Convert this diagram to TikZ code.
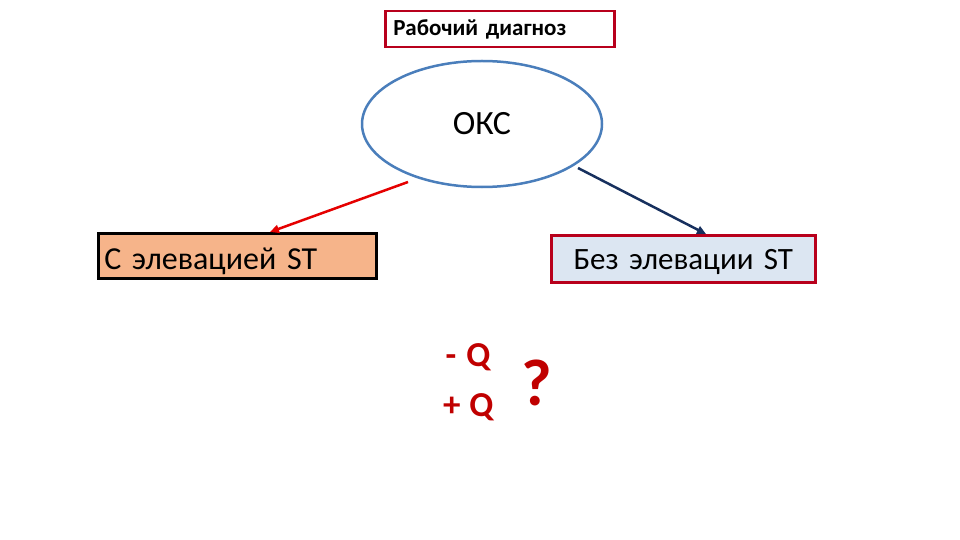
\documentclass[tikz,border=0pt]{standalone}
\usepackage{fontspec}
\setmainfont{Carlito}[WordSpace=0.6]
\usetikzlibrary{arrows.meta,shapes.geometric}
\definecolor{dkred}{HTML}{B8001C}
\definecolor{ellblue}{HTML}{4A7EBB}
\definecolor{navy}{HTML}{17305E}
\definecolor{peach}{HTML}{F6B48A}
\definecolor{ltblue}{HTML}{DCE6F2}
\definecolor{qred}{HTML}{C00000}
\tikzset{
  boxbase/.style={draw, line width=2.5pt, inner sep=0pt, anchor=north west},
  arr/.style={line width=2.5pt, -{Triangle[length=9pt,width=8pt]}},
  qtext/.style={text=qred, font=\bfseries\fontsize{35}{38}\selectfont}
}
\begin{document}
\begin{tikzpicture}[x=1pt,y=-1pt]
\useasboundingbox (0,0) rectangle (960,540);
\fill[white] (0,0) rectangle (960,540);
\node[boxbase, draw=dkred, minimum width=229pt, minimum height=36pt, text width=213pt, inner xsep=8pt, align=left, font=\bfseries\fontsize{23}{26}\selectfont] (top) at (384,10) {Рабочий диагноз};
\node[ellipse, draw=ellblue, line width=2.5pt, minimum width=240pt, minimum height=126pt, inner sep=0pt, font=\fontsize{34}{36}\selectfont] (oks) at (482,124) {ОКС};
\node[boxbase, draw=black, fill=peach, minimum width=278pt, minimum height=45pt, text width=266pt, inner xsep=6pt, text height=27pt, text depth=0pt, align=left, font=\fontsize{32}{34}\selectfont] (lbox) at (97,232) {С элевацией ST};
\node[boxbase, draw=dkred, fill=ltblue, minimum width=264pt, minimum height=47pt, align=center, text width=264pt, text height=21pt, text depth=0pt, font=\fontsize{31}{33}\selectfont] (rbox) at (550,234) {Без элевации ST};
\coordinate (rs) at (408,182);
\coordinate (ns) at (578,168);
\draw[arr, draw=red!90!black, fill=red!90!black] (rs) -- (270,0 |- lbox.north);
\draw[arr, draw=navy, fill=navy] (ns) -- (706,0 |- rbox.north);
\node[qtext, anchor=east] (mq) at (494,357) {-\hspace{10pt}Q};
\node[qtext, anchor=east] (pq) at (497,407) {+\hspace{9pt}Q};
\node[text=qred, font=\bfseries\fontsize{66}{68}\selectfont] (qm) at (537,383) {?};
\end{tikzpicture}
\end{document}
